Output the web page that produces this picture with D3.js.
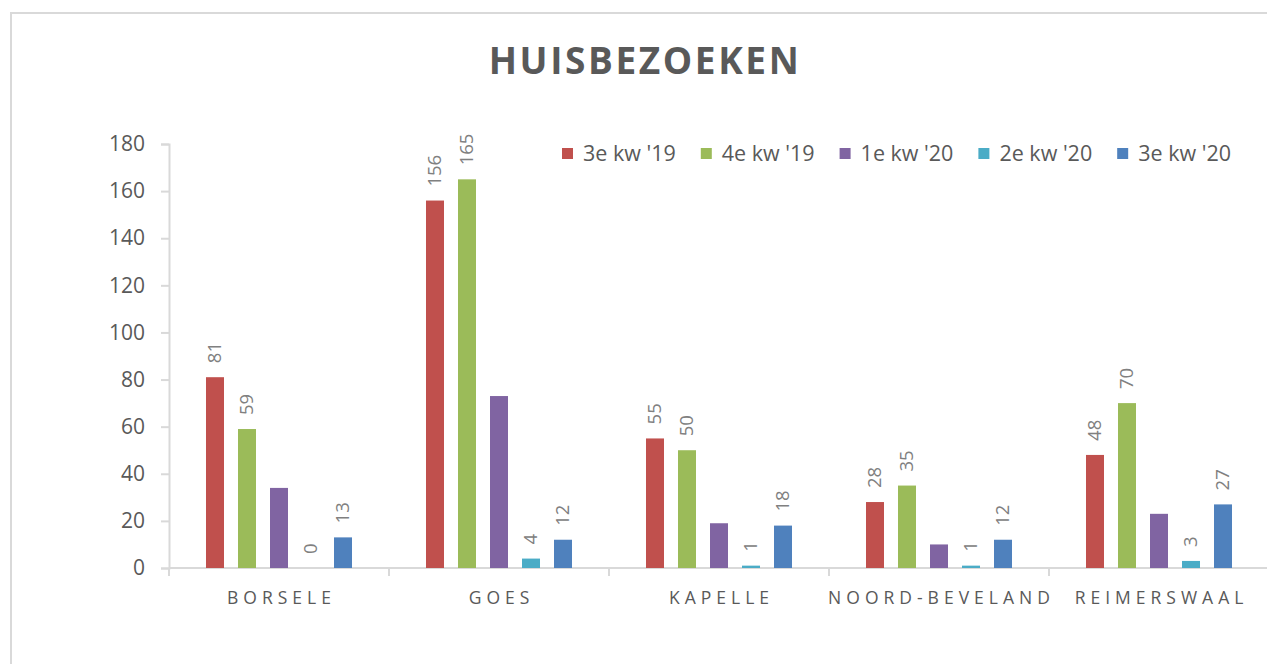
<!DOCTYPE html>
<html>
<head>
<meta charset="utf-8">
<style>
html, body { margin: 0; padding: 0; background: #fff; }
svg { display: block; font-family: "Open Sans", sans-serif; }
</style>
</head>
<body>
<svg width="1267" height="664"></svg>
<script src="https://d3js.org/d3.v7.min.js"></script>
<script>
// HUISBEZOEKEN per gemeente, per kwartaal
var categories = ["BORSELE", "GOES", "KAPELLE", "NOORD-BEVELAND", "REIMERSWAAL"];
var seriesNames = ["3e kw '19", "4e kw '19", "1e kw '20", "2e kw '20", "3e kw '20"];
var kw3_19 = [81, 156, 55, 28, 48];
var kw4_19 = [59, 165, 50, 35, 70];
var kw1_20 = [34, 73, 19, 10, 23];   // no labels on this series
var kw2_20 = [0, 4, 1, 1, 3];
var kw3_20 = [13, 12, 18, 12, 27];
var yTicks = [0, 20, 40, 60, 80, 100, 120, 140, 160, 180];

var seriesValues = [kw3_19, kw4_19, kw1_20, kw2_20, kw3_20];
var colors = ["#c0504d", "#9bbb59", "#8064a2", "#4bacc6", "#4f81bd"];
var showLabel = [true, true, false, true, true];

var svg = d3.select("svg");

// chart frame
svg.append("rect")
    .attr("x", 11).attr("y", 13)
    .attr("width", 1300).attr("height", 700)
    .attr("fill", "none")
    .attr("stroke", "#d9d9d9")
    .attr("stroke-width", 2);

svg.append("text")
    .attr("x", 645).attr("y", 74)
    .attr("text-anchor", "middle")
    .attr("fill", "#595959")
    .attr("font-size", 37)
    .attr("font-weight", "bold")
    .attr("letter-spacing", 2.6)
    .text("HUISBEZOEKEN");

var x0 = d3.scaleBand()
    .domain(categories)
    .range([169, 1269]);

var x1 = d3.scaleBand()
    .domain(d3.range(seriesNames.length))
    .range([0, x0.bandwidth()])
    .paddingInner(0.4375)
    .paddingOuter(1.156);

var y = d3.scaleLinear()
    .domain([0, 180])
    .range([568, 144]);

// y axis
var yAxis = svg.append("g")
    .attr("transform", "translate(169,0)")
    .call(d3.axisLeft(y).tickValues(yTicks).tickSize(8).tickPadding(16));
yAxis.selectAll("path, line").attr("stroke", "#d9d9d9").attr("stroke-width", 2);
yAxis.selectAll("text")
    .attr("fill", "#595959")
    .attr("font-size", 21)
    .attr("font-family", "Open Sans, sans-serif");

// x axis line + category separators
var xg = svg.append("g");
xg.append("line")
    .attr("x1", 169).attr("x2", 1269)
    .attr("y1", y(0)).attr("y2", y(0))
    .attr("stroke", "#d9d9d9").attr("stroke-width", 2);
xg.selectAll("line.sep")
    .data(categories)
    .enter().append("line")
    .attr("class", "sep")
    .attr("x1", function(d) { return x0(d); })
    .attr("x2", function(d) { return x0(d); })
    .attr("y1", y(0)).attr("y2", y(0) + 8)
    .attr("stroke", "#d9d9d9").attr("stroke-width", 2);
xg.selectAll("text.cat")
    .data(categories)
    .enter().append("text")
    .attr("class", "cat")
    .attr("x", function(d) { return x0(d) + x0.bandwidth() / 2 + 2.5; })
    .attr("y", 604)
    .attr("text-anchor", "middle")
    .attr("fill", "#595959")
    .attr("font-size", 17.5)
    .attr("letter-spacing", 5)
    .text(function(d) { return d; });

// bars
var groups = svg.selectAll("g.cat")
    .data(categories)
    .enter().append("g")
    .attr("class", "cat")
    .attr("transform", function(d) { return "translate(" + x0(d) + ",0)"; });

groups.selectAll("rect")
    .data(function(d, i) {
      return seriesValues.map(function(s, j) { return {s: j, v: s[i]}; });
    })
    .enter().append("rect")
    .attr("x", function(d) { return x1(d.s); })
    .attr("y", function(d) { return y(d.v); })
    .attr("width", x1.bandwidth())
    .attr("height", function(d) { return y(0) - y(d.v); })
    .attr("fill", function(d) { return colors[d.s]; });

// rotated data labels
groups.selectAll("text.lbl")
    .data(function(d, i) {
      return seriesValues.map(function(s, j) { return {s: j, v: s[i]}; })
        .filter(function(d) { return showLabel[d.s]; });
    })
    .enter().append("text")
    .attr("class", "lbl")
    .attr("transform", function(d) {
      return "translate(" + (x1(d.s) + x1.bandwidth() / 2) + "," + (y(d.v) - 14) + ") rotate(-90)";
    })
    .attr("dy", "0.35em")
    .attr("fill", "#808080")
    .attr("font-size", 18.5)
    .text(function(d) { return d.v; });

// legend
var legend = svg.append("g").attr("transform", "translate(562,0)");
var lx = 0;
seriesNames.forEach(function(name, i) {
  var item = legend.append("g").attr("transform", "translate(" + lx + ",0)");
  item.append("rect")
      .attr("x", 0).attr("y", 148)
      .attr("width", 11).attr("height", 11)
      .attr("fill", colors[i]);
  var t = item.append("text")
      .attr("x", 21).attr("y", 161)
      .attr("fill", "#595959")
      .attr("font-size", 21.5)
      .text(name);
  lx += 21 + t.node().getComputedTextLength() + 25;
});
</script>
</body>
</html>
